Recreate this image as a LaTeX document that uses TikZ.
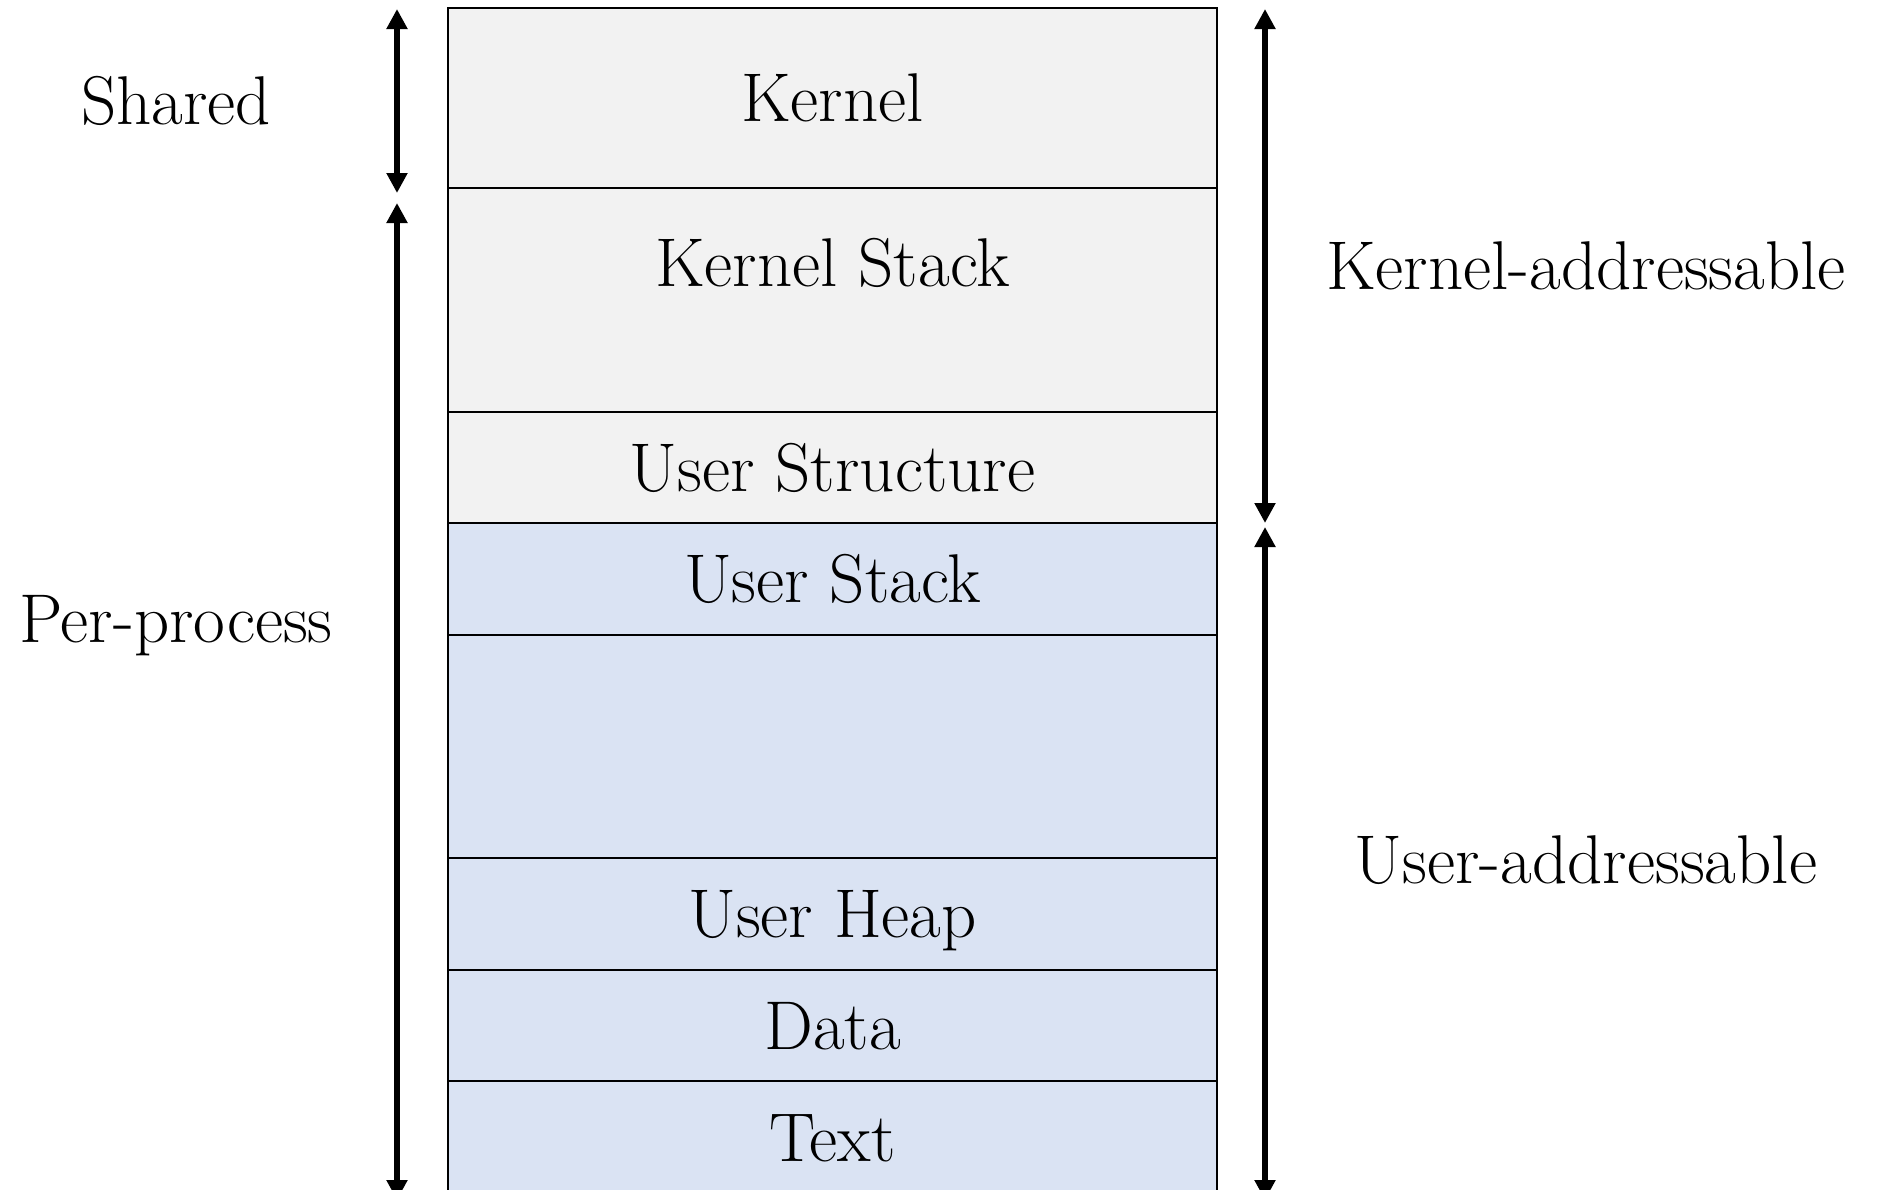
\documentclass[tikz,border=0pt]{standalone}
\usetikzlibrary{arrows.meta,positioning}
\definecolor{kernelgrey}{HTML}{F2F2F2}
\definecolor{userblue}{HTML}{DAE3F3}
\tikzset{
	bigtext/.style={font=\fontsize{34.5}{41}\selectfont,text height=27.6pt,text depth=4pt,inner sep=0pt},
	seg/.style={bigtext,draw,line width=1pt,minimum width=384.5pt,outer sep=0pt},
	kseg/.style={seg,fill=kernelgrey},
	useg/.style={seg,fill=userblue},
	span/.style={line width=2.8pt,{Triangle[width=10pt,length=10pt]}-{Triangle[width=10pt,length=10pt]}}
}
\begin{document}
\begin{tikzpicture}
	\useasboundingbox (0,0) rectangle (941pt,-594.5pt);

	% memory layout
	\node [kseg,minimum height=90pt] at (416.25pt,-49pt) (kernel) {Kernel} ;
	\node [kseg,minimum height=112pt,text height=49.3pt,text depth=62.7pt,below=0pt of kernel] (kstack) {Kernel Stack} ;
	\node [kseg,minimum height=55.5pt,below=0pt of kstack] (ustruct) {User Structure} ;
	\node [useg,minimum height=56pt,below=0pt of ustruct] (ustack) {User Stack} ;
	\node [useg,minimum height=111.5pt,below=0pt of ustack] (gap) {} ;
	\node [useg,minimum height=56pt,below=0pt of gap] (uheap) {User Heap} ;
	\node [useg,minimum height=55.5pt,below=0pt of uheap] (data) {Data} ;
	\node [useg,minimum height=57pt,below=0pt of data] (text) {Text} ;

	% arrow ends
	\coordinate (shtop) at (198.5pt,-4.5pt) ;
	\coordinate (shbot) at (198.5pt,-96.5pt) ;
	\coordinate (pptop) at (198.5pt,-101.5pt) ;
	\coordinate (ppbot) at (198.5pt,-600pt) ;
	\coordinate (katop) at (632.5pt,-4.5pt) ;
	\coordinate (kabot) at (632.5pt,-261.5pt) ;
	\coordinate (uatop) at (632.5pt,-263.5pt) ;
	\coordinate (uabot) at (632.5pt,-600pt) ;

	\draw [span] (shtop) -- (shbot) ;
	\draw [span] (pptop) -- (ppbot) ;
	\draw [span] (katop) -- (kabot) ;
	\draw [span] (uatop) -- (uabot) ;

	% labels
	\node [bigtext] at (88pt,-50.5pt)   (shared) {Shared} ;
	\node [bigtext] at (88pt,-309.5pt)  (perproc) {Per-process} ;
	\node [bigtext] at (793pt,-133pt)   (kaddr) {Kernel-addressable} ;
	\node [bigtext] at (793pt,-430pt)   (uaddr) {User-addressable} ;
\end{tikzpicture}
\end{document}
